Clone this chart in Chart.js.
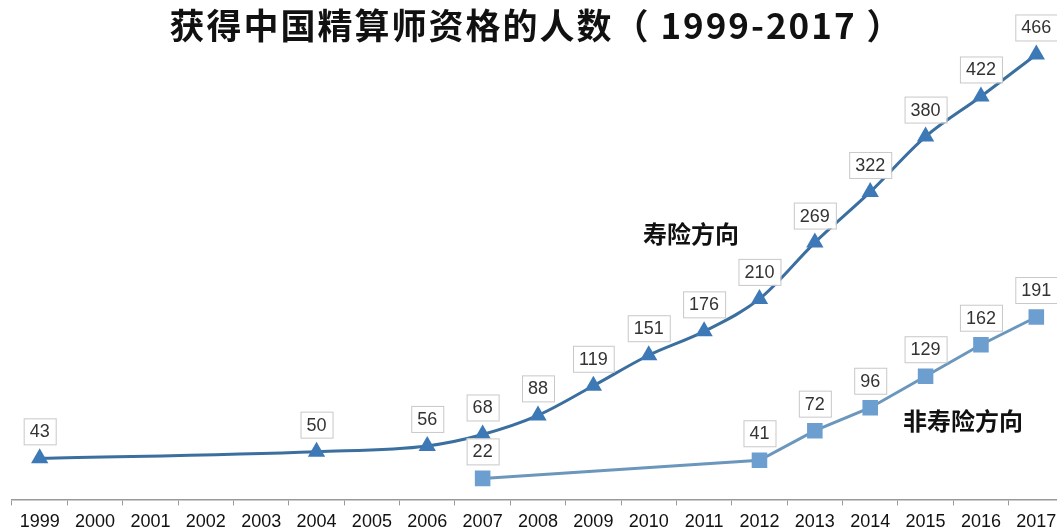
<!DOCTYPE html>
<html>
<head>
<meta charset="utf-8">
<script src="https://cdn.jsdelivr.net/npm/chart.js@4.4.1/dist/chart.umd.min.js"></script>
<style>
  html, body { margin: 0; padding: 0; background: #fff; overflow: hidden; }
  #wrap { position: relative; width: 1057px; height: 529px; overflow: hidden; }
  #box { position: absolute; left: 0; top: 0; width: 1075px; height: 555px; }
  .txt { position: absolute; font-family: "Noto Sans CJK SC", sans-serif; font-weight: bold; color: #111; white-space: nowrap; }
  #title { left: 8px; width: 1057px; top: 0; text-align: center; font-size: 35px; line-height: 48px; letter-spacing: 2px; }
  #lab1 { left: 643px; top: 216px; font-size: 24px; line-height: 34px; }
  #lab2 { left: 903px; top: 403px; font-size: 24px; line-height: 34px; }
</style>
</head>
<body>
<div id="wrap">
  <div id="box"><canvas id="chart"></canvas></div>
  <div class="txt" id="title">获得中国精算师资格的人数（ 1999-2017 ）</div>
  <div class="txt" id="lab1">寿险方向</div>
  <div class="txt" id="lab2">非寿险方向</div>
</div>
<script>
//years on the x axis
const years = ['1999', '2000', '2001', '2002', '2003', '2004', '2005', '2006', '2007', '2008',
  '2009', '2010', '2011', '2012', '2013', '2014', '2015', '2016', '2017'];
//life direction (寿险方向), null where no value shown
const lifeValues = [43, null, null, null, null, 50, null, 56, 68, 88,
  119, 151, 176, 210, 269, 322, 380, 422, 466];
//non-life direction (非寿险方向)
const nonLifeValues = [null, null, null, null, null, null, null, null, 22, null,
  null, null, null, 41, 72, 96, 129, 162, 191];

//draws the boxed value above every point
const boxLabels = {
  id: 'boxLabels',
  afterDatasetsDraw(chart) {
    const ctx = chart.ctx;
    ctx.save();
    ctx.font = '18px "Liberation Sans", Arial, sans-serif';
    ctx.textAlign = 'center';
    ctx.textBaseline = 'middle';
    chart.data.datasets.forEach((ds, i) => {
      chart.getDatasetMeta(i).data.forEach((pt, j) => {
        const v = ds.data[j];
        if (v === null) return;
        const text = String(v);
        const w = ctx.measureText(text).width + 12;
        const h = 26;
        const cx = pt.x;
        const cy = pt.y - 27;
        ctx.fillStyle = '#ffffff';
        ctx.fillRect(cx - w / 2, cy - h / 2, w, h);
        ctx.strokeStyle = '#c8c8c8';
        ctx.lineWidth = 1;
        ctx.strokeRect(cx - w / 2 + 0.5, cy - h / 2 + 0.5, w, h);
        ctx.fillStyle = '#333333';
        ctx.fillText(text, cx, cy + 1);
      });
    });
    ctx.restore();
  }
};

new Chart(document.getElementById('chart'), {
  type: 'line',
  plugins: [boxLabels],
  data: {
    labels: years,
    datasets: [
      {
        label: '寿险方向',
        data: lifeValues,
        borderColor: '#3a6f9f',
        backgroundColor: '#3d79b6',
        borderWidth: 3,
        pointStyle: 'triangle',
        pointRadius: 10,
        pointBorderWidth: 0,
        spanGaps: true,
        cubicInterpolationMode: 'monotone',
      },
      {
        label: '非寿险方向',
        data: nonLifeValues,
        borderColor: '#6b97bd',
        backgroundColor: '#6c9fd0',
        borderWidth: 3,
        pointStyle: 'rect',
        pointRadius: 11,
        pointBorderWidth: 0,
        spanGaps: true,
        tension: 0,
      },
    ],
  },
  options: {
    responsive: true,
    maintainAspectRatio: false,
    animation: false,
    layout: { padding: { left: 12, right: 10, top: 22, bottom: 16 } },
    plugins: {
      legend: { display: false },
      tooltip: { enabled: false },
      title: { display: false },
    },
    scales: {
      x: {
        offset: true,
        grid: {
          offset: true,
          drawOnChartArea: false,
          drawTicks: true,
          tickLength: 6,
          color: '#999999',
        },
        border: { display: true, color: '#999999', width: 1.5 },
        ticks: {
          color: '#111111',
          padding: 6,
          maxRotation: 0,
          autoSkip: false,
          font: { size: 18, family: '"Liberation Sans", Arial, sans-serif' },
        },
      },
      y: {
        display: false,
        min: 0,
        max: 500,
      },
    },
  },
});
</script>
</body>
</html>
